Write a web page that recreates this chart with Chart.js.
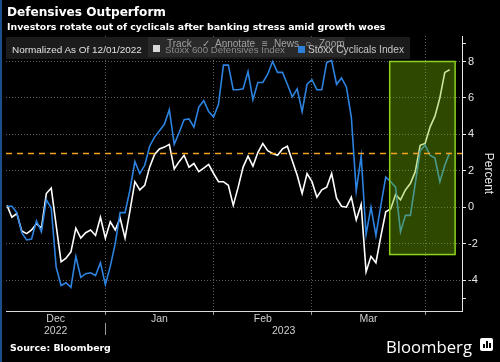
<!DOCTYPE html>
<html>
<head>
<meta charset="utf-8">
<script src="https://cdn.jsdelivr.net/npm/chart.js"></script>
<style>
    html, body { margin: 0; padding: 0; background: #000; }
    #wrap { position: relative; width: 500px; height: 362px; overflow: hidden; background: #000; }
    #chart { position: absolute; left: 0; top: 0; }
    .txt { position: absolute; white-space: nowrap; line-height: 1; }
    #title { left: 7px; top: 5px; color: #fff; font: bold 13px "DejaVu Sans"; }
    #subtitle { left: 7px; top: 21px; color: #fff; font: bold 9.5px "DejaVu Sans"; }
    #source { left: 10px; top: 342px; color: #fff; font: bold 9px "DejaVu Sans"; }
    #logo { left: 386px; top: 335px; color: #fff; font: 17px "Open Sans"; }
    #logoIcon { position: absolute; left: 480px; top: 338px; width: 13px; height: 13px; background: #fff; border-radius: 2px; }
    #logoIcon i { position: absolute; bottom: 3px; width: 2px; background: #000; }
    #leftEdge { position: absolute; left: 0; top: 0; width: 2px; height: 362px; background: #1b4e8c; }
    #legend { position: absolute; left: 6px; top: 37px; width: 404px; height: 22px; background: #1b1b1b; }
    #toolbar { position: absolute; left: 148px; top: 37px; width: 197px; height: 20px; background: rgba(60,60,60,0.45); }
    .leg { font: 10px "Liberation Sans"; }
    .tool { font: 10px "Liberation Sans"; color: rgba(200,200,200,0.75); }
    .sq { position: absolute; width: 7px; height: 7px; }
</style>
</head>
<body>
<div id="wrap">
    <canvas id="chart" width="500" height="362"></canvas>
    <div id="leftEdge"></div>
    <div id="title" class="txt" data-fit="159">Defensives Outperform</div>
    <div id="subtitle" class="txt" data-fit="379">Investors rotate out of cyclicals after banking stress amid growth woes</div>

    <div id="legend"></div>
    <div id="toolbar"></div>
    <div class="txt leg" style="left:12px; top:44px; color:#e0e0e0;" data-fit="130">Normalized As Of 12/01/2022</div>
    <div class="sq" style="left:153px; top:45px; background:#d8d8d8;"></div>
    <div class="txt leg" style="left:165px; top:44px; color:#8a8a8a;" data-fit="120">Stoxx 600 Defensives Index</div>
    <div class="sq" style="left:298px; top:46px; background:#2d7fd8;"></div>
    <div class="txt leg" style="left:308px; top:44px; color:#c8c8c8;" data-fit="96">Stoxx Cyclicals Index</div>
    <div class="txt tool" style="left:167px; top:38px;">Track</div>
    <div class="txt tool" style="left:202px; top:38px;">✓</div>
    <div class="txt tool" style="left:215px; top:38px;">Annotate</div>
    <div class="txt tool" style="left:262px; top:38px;">≡</div>
    <div class="txt tool" style="left:274px; top:38px;">News</div>
    <div class="txt tool" style="left:305px; top:38px;">○</div>
    <div class="txt tool" style="left:319px; top:38px;">Zoom</div>

    <div id="source" class="txt" data-fit="101">Source: Bloomberg</div>
    <div id="logo" class="txt" data-fit="86">Bloomberg</div>
    <div id="logoIcon"><i style="left:3px;height:4px"></i><i style="left:6px;height:7px"></i><i style="left:9px;height:5px"></i></div>
</div>

<script>
// Trading-day index 0 = 12/01/2022; values normalized in percent
const defensivesValues = [
    0.1, -0.55, -0.35, -1.3, -1.45, -1.25, -0.9, -1.15, 0.75, 1.05,
    -1.0, -3.0, -2.8, -2.45, -1.15, -1.7, -1.4, -1.25, -1.55, -0.55,
    -1.7, -0.8, -1.25, -0.6, -1.7, -0.2, 1.4, 0.95, 1.2, 2.2,
    2.9, 3.2, 3.3, 3.45, 2.1, 2.5, 2.85, 2.2, 2.4, 1.95,
    2.15, 2.35, 1.85, 1.4, 1.4, 1.2, 0.1, 1.1, 2.2, 2.8,
    2.25, 3.0, 3.5, 3.1, 2.95, 2.85, 3.2, 3.35, 2.55, 1.75,
    0.75, 1.85, 1.4, 0.55, 0.95, 1.1, 1.85, 0.5, 0.05, 0.0,
    0.55, -0.7, 0.15, -3.55, -2.7, -3.05, -1.6, -0.25, -0.1, 0.7,
    0.4, 0.95, 1.3, 1.95, 3.4, 3.5, 4.4, 5.0, 6.0, 7.4,
    7.55
];
const cyclicalsValues = [
    0.05, 0.05, -0.3, -1.4, -1.8, -1.75, -0.75, -1.35, 0.4, -0.05,
    -3.3, -4.3, -4.15, -4.4, -2.7, -3.85, -3.65, -3.6, -3.75, -3.05,
    -4.25, -3.25, -2.0, -0.3, -0.3, 0.95, 2.5, 1.85, 2.3, 3.35,
    3.85, 4.2, 4.55, 5.35, 3.45, 4.1, 4.8, 4.85, 4.4, 5.5,
    5.85, 5.25, 4.95, 5.65, 7.8, 7.8, 6.45, 6.45, 6.5, 7.45,
    5.9, 6.85, 6.85, 7.3, 8.0, 7.4, 7.4, 6.75, 6.05, 6.5,
    5.25, 6.75, 7.0, 6.45, 6.45, 7.95, 8.05, 6.75, 7.1, 6.6,
    4.95, 0.9, 2.8, -1.5, 0.0, -1.55, 0.1, 1.65, 1.4, 1.1,
    -1.35, -0.45, -0.45, 1.3, 3.1, 3.4, 2.85, 2.7, 1.4, 2.3,
    3.0
];

// x axis: trading-day index where each month starts
const monthStarts = [20, 42, 62, 85];
const monthLabels = ['Dec', 'Jan', 'Feb', 'Mar'];
const yearStarts = [20];
const yearLabels = ['2022', '2023'];
const xRange = [-0.2, 92.5];

// y axis (percent)
const yTicks = [-5, -4, -2, 0, 2, 4, 6, 8, 9];
const yLabelled = [-4, -2, 0, 2, 4, 6, 8];
const yRange = [-5.7, 9.4];

// dashed reference level and highlighted zone
const referenceLevel = 3;
const highlightDays = [77.8, 91.1];
const highlightLevels = [-2.6, 8];

// fit html text to measured widths
document.querySelectorAll('[data-fit]').forEach(function(el) {
    const target = parseFloat(el.dataset.fit);
    const size = parseFloat(getComputedStyle(el).fontSize);
    const w = el.getBoundingClientRect().width;
    if (w > 0) el.style.fontSize = (size * target / w).toFixed(2) + 'px';
});

function toPoints(values) {
    return values.map(function(v, i) { return { x: i, y: v }; });
}

const overlayPlugin = {
    id: 'overlay',
    afterDatasetsDraw(chart) {
        const ctx = chart.ctx;
        const x = chart.scales.x, y = chart.scales.y;
        const area = chart.chartArea;

        // green highlight box
        const l = x.getPixelForValue(highlightDays[0]);
        const r = x.getPixelForValue(highlightDays[1]);
        const t = y.getPixelForValue(highlightLevels[1]);
        const b = y.getPixelForValue(highlightLevels[0]);
        ctx.save();
        ctx.fillStyle = 'rgba(121, 189, 0, 0.38)';
        ctx.fillRect(l, t, r - l, b - t);
        ctx.strokeStyle = '#8fd21e';
        ctx.lineWidth = 1.5;
        ctx.strokeRect(l, t, r - l, b - t);

        // orange dashed reference line
        const ry = Math.round(y.getPixelForValue(referenceLevel)) + 0.5;
        ctx.strokeStyle = '#f2a21e';
        ctx.lineWidth = 1.5;
        ctx.setLineDash([6, 5]);
        ctx.beginPath();
        ctx.moveTo(area.left, ry);
        ctx.lineTo(area.right, ry);
        ctx.stroke();
        ctx.restore();
    },
    afterDraw(chart) {
        const ctx = chart.ctx;
        const x = chart.scales.x;
        const area = chart.chartArea;
        ctx.save();
        ctx.fillStyle = '#cfcfcf';
        ctx.font = '10.5px "Liberation Sans"';
        ctx.textAlign = 'center';
        ctx.textBaseline = 'middle';

        // month labels centred in their span
        const edges = [xRange[0]].concat(monthStarts).concat([xRange[1]]);
        monthLabels.forEach(function(label, i) {
            const mid = (edges[i] + edges[i + 1]) / 2;
            ctx.fillText(label, x.getPixelForValue(mid), area.bottom + 8);
        });
        // year labels
        const yEdges = [xRange[0]].concat(yearStarts).concat([xRange[1]]);
        yearLabels.forEach(function(label, i) {
            const mid = (yEdges[i] + yEdges[i + 1]) / 2;
            ctx.fillText(label, x.getPixelForValue(mid), area.bottom + 20);
        });
        // year separator
        ctx.strokeStyle = '#9a9a9a';
        ctx.lineWidth = 1;
        yearStarts.forEach(function(d) {
            const px = Math.round(x.getPixelForValue(d)) + 0.5;
            ctx.beginPath();
            ctx.moveTo(px, area.bottom + 12);
            ctx.lineTo(px, area.bottom + 24);
            ctx.stroke();
        });

        // axis title
        ctx.fillStyle = '#e6e6e6';
        ctx.font = '12px "Liberation Sans"';
        ctx.translate(488, (area.top + area.bottom) / 2);
        ctx.rotate(Math.PI / 2);
        ctx.fillText('Percent', 0, 0);
        ctx.restore();
    }
};

const ctx = document.getElementById('chart').getContext('2d');
new Chart(ctx, {
    type: 'line',
    data: {
        datasets: [
            {
                label: 'Stoxx Cyclicals Index',
                data: toPoints(cyclicalsValues),
                borderColor: '#2d83e0',
                borderWidth: 1.6,
                pointRadius: 0,
                tension: 0,
                order: 0
            },
            {
                label: 'Stoxx 600 Defensives Index',
                data: toPoints(defensivesValues),
                borderColor: '#ffffff',
                borderWidth: 1.6,
                pointRadius: 0,
                tension: 0,
                order: 1
            }
        ]
    },
    options: {
        responsive: false,
        animation: false,
        layout: { padding: { top: 36, left: 6, right: 0, bottom: 0 } },
        plugins: {
            legend: { display: false },
            tooltip: { enabled: false }
        },
        scales: {
            x: {
                type: 'linear',
                min: xRange[0],
                max: xRange[1],
                afterBuildTicks: function(scale) {
                    scale.ticks = monthStarts.map(function(v) { return { value: v }; });
                },
                afterFit: function(scale) { scale.height = 51; },
                ticks: { display: false },
                grid: {
                    color: '#5c5c5c',
                    lineWidth: 1,
                    tickLength: 4,
                    tickColor: '#9a9a9a',
                    borderDash: [1, 2]
                },
                border: { display: true, color: '#dcdcdc', width: 1, dash: [1, 2] }
            },
            y: {
                position: 'right',
                min: yRange[0],
                max: yRange[1],
                afterBuildTicks: function(scale) {
                    scale.ticks = yTicks.map(function(v) { return { value: v }; });
                },
                afterFit: function(scale) { scale.width = 38; },
                ticks: {
                    color: '#e6e6e6',
                    font: { family: 'Liberation Sans', size: 11 },
                    padding: 2,
                    callback: function(value) {
                        return yLabelled.indexOf(value) >= 0 ? String(value) : '';
                    }
                },
                grid: {
                    color: function(c) {
                        return c.tick && yLabelled.indexOf(c.tick.value) >= 0 ? '#5c5c5c' : 'rgba(0,0,0,0)';
                    },
                    lineWidth: 1,
                    tickLength: 4,
                    tickColor: '#e6e6e6',
                    borderDash: [1, 2]
                },
                border: { display: true, color: '#e6e6e6', width: 1, dash: [1, 2] }
            }
        }
    },
    plugins: [overlayPlugin]
});
</script>
</body>
</html>
